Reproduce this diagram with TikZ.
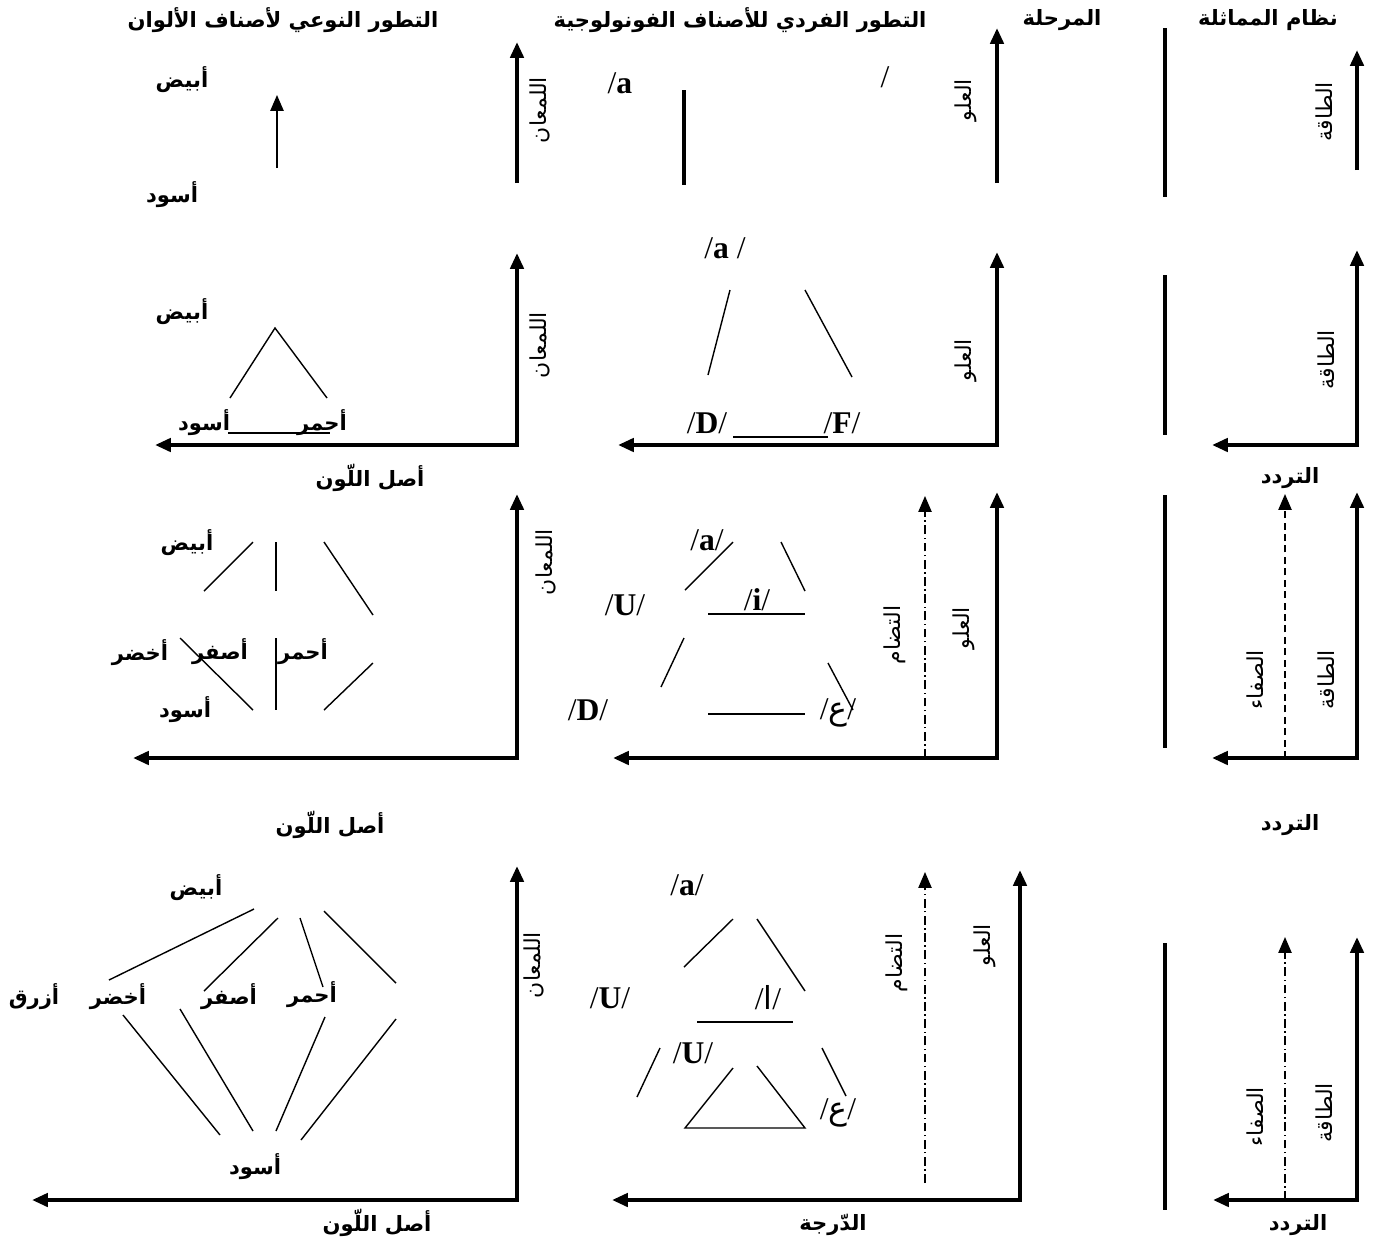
\documentclass[tikz,border=0pt]{standalone}
\usepackage{fontspec}
\setmainfont{Liberation Serif}
\newfontfamily\arabicfont[Script=Arabic]{DejaVu Sans}
\TeXXeTstate=1
\usepackage{tikz}
\usetikzlibrary{arrows.meta}
\newcommand{\rtl}[1]{\beginR#1\endR}

\begin{document}
\begin{tikzpicture}[x=0.02cm, y=-0.02cm, >={Triangle[width=7.5pt,length=9pt]},
  every node/.style={inner sep=1pt},
  ar/.style={font=\arabicfont\bfseries\fontsize{12}{14}\selectfont},
  vlab/.style={rotate=90, font=\arabicfont\fontsize{12.5}{14}\selectfont},
  ph/.style={font=\fontsize{18}{20}\selectfont},
  axis/.style={line width=2.2pt},
  link/.style={line width=0.8pt},
  sep/.style={line width=2.2pt},
  dashdot/.style={line width=0.8pt, dash pattern=on 5pt off 2pt on 0.8pt off 2pt},
  dashline/.style={line width=0.8pt, dash pattern=on 4pt off 2.5pt}]
\useasboundingbox (0,0) rectangle (1373,1248);
\node[ar] (head1) at (283,20) {\rtl{التطور النوعي لأصناف الألوان}};
\node[ar] (head2) at (740,20) {\rtl{التطور الفردي للأصناف الفونولوجية}};
\node[ar] (head3) at (1062,20) {\rtl{المرحلة}};
\node[ar] (head4) at (1268,20) {\rtl{نظام المماثلة}};
% stage 1
\node[ar] (white1) at (182,80) {\rtl{أبيض}};
\node[ar] (black1) at (172,195) {\rtl{أسود}};
\draw[->, line width=1pt] (277,168) -- (277,95);
\draw[->, axis] (517,183) -- (517,42);
\node[vlab] (lum1) at (540,110) {\rtl{اللمعان}};
\node[ph] (a1) at (620,83) {/\textbf{a}};
\draw[sep] (684,90) -- (684,185);
\node[ph] (slash1) at (885,77) {/};
\draw[->, axis] (997,183) -- (997,28);
\node[vlab] (height1) at (966,100) {\rtl{العلو}};
\draw[sep] (1165,28) -- (1165,197);
\draw[->, axis] (1357,170) -- (1357,50);
\node[vlab] (energy1) at (1324,112) {\rtl{الطاقة}};
% stage 2
\node[ar] (white2) at (182,312) {\rtl{أبيض}};
\draw[link] (230,398) -- (275,328) -- (327,398);
\node[ar] (black2) at (204,423) {\rtl{أسود}};
\node[ar] (red2) at (322,423) {\rtl{أحمر}};
\draw[link] (228,433) -- (330,433);
\draw[<->, axis] (517,253) -- (517,445) -- (155,445);
\node[vlab] (lum2) at (540,345) {\rtl{اللمعان}};
\node[ar] (hue2) at (370,478) {\rtl{أصل اللّون}};
\node[ph] (a2) at (725,248) {/\textbf{a} /};
\draw[link] (730,290) -- (708,375);
\draw[link] (805,290) -- (852,377);
\node[ph] (D2) at (707,423) {/\textbf{D}/};
\draw[link] (733,437) -- (828,437);
\node[ph] (F2) at (842,423) {/\textbf{F}/};
\draw[<->, axis] (997,252) -- (997,445) -- (618,445);
\node[vlab] (height2) at (966,360) {\rtl{العلو}};
\draw[sep] (1165,275) -- (1165,435);
\draw[<->, axis] (1357,250) -- (1357,445) -- (1212,445);
\node[vlab] (energy2) at (1326,360) {\rtl{الطاقة}};
\node[ar] (freq2) at (1290,478) {\rtl{التردد}};
% stage 3
\node[ar] (white3) at (187,543) {\rtl{أبيض}};
\draw[link] (204,591) -- (253,542);
\draw[link] (276,542) -- (276,591);
\draw[link] (324,542) -- (373,615);
\node[ar] (green3) at (140,653) {\rtl{أخضر}};
\node[ar] (yellow3) at (220,652) {\rtl{أصفر}};
\node[ar] (red3) at (303,652) {\rtl{أحمر}};
\draw[link] (180,638) -- (253,710);
\draw[link] (276,638) -- (276,710);
\draw[link] (324,710) -- (373,663);
\node[ar] (black3) at (185,710) {\rtl{أسود}};
\draw[<->, axis] (517,494) -- (517,758) -- (133,758);
\node[vlab] (lum3) at (546,562) {\rtl{اللمعان}};
\node[ar] (hue3) at (330,825) {\rtl{أصل اللّون}};
\node[ph] (a3) at (707,540) {/\textbf{a}/};
\draw[link] (685,590) -- (733,542);
\draw[link] (781,542) -- (805,591);
\node[ph] (U3) at (625,605) {/\textbf{U}/};
\node[ph] (i3) at (757,600) {/\textbf{i}/};
\draw[link] (708,614) -- (805,614);
\draw[link] (684,638) -- (661,687);
\draw[link] (828,663) -- (853,710);
\node[ph] (D3) at (588,710) {/\textbf{D}/};
\draw[link] (708,714) -- (805,714);
\node[ph] (ain3) at (838,713) {/{\arabicfont ع}/};
\draw[->, dashdot] (925,758) -- (925,496);
\node[vlab] (comp3) at (895,635) {\rtl{التضام}};
\draw[<->, axis] (997,492) -- (997,758) -- (613,758);
\node[vlab] (height3) at (964,628) {\rtl{العلو}};
\draw[sep] (1165,495) -- (1165,748);
\draw[->, dashline] (1285,758) -- (1285,494);
\node[vlab] (clear3) at (1255,680) {\rtl{الصفاء}};
\draw[<->, axis] (1357,492) -- (1357,758) -- (1212,758);
\node[vlab] (energy3) at (1326,680) {\rtl{الطاقة}};
\node[ar] (freq3) at (1290,825) {\rtl{التردد}};
% stage 4
\node[ar] (white4) at (196,888) {\rtl{أبيض}};
\draw[link] (254,909) -- (109,980);
\draw[link] (278,918) -- (204,991);
\draw[link] (300,918) -- (323,987);
\draw[link] (324,911) -- (396,983);
\node[ar] (blue4) at (34,997) {\rtl{أزرق}};
\node[ar] (green4) at (118,997) {\rtl{أخضر}};
\node[ar] (yellow4) at (229,997) {\rtl{أصفر}};
\node[ar] (red4) at (312,995) {\rtl{أحمر}};
\draw[link] (123,1015) -- (220,1135);
\draw[link] (180,1009) -- (253,1131);
\draw[link] (325,1017) -- (276,1131);
\draw[link] (396,1019) -- (301,1140);
\node[ar] (black4) at (255,1167) {\rtl{أسود}};
\draw[<->, axis] (517,866) -- (517,1200) -- (32,1200);
\node[vlab] (lum4) at (534,965) {\rtl{اللمعان}};
\node[ar] (hue4) at (377,1223) {\rtl{أصل اللّون}};
\node[ph] (a4) at (687,885) {/\textbf{a}/};
\draw[link] (733,919) -- (684,967);
\draw[link] (757,919) -- (805,991);
\node[ph] (U4) at (610,998) {/\textbf{U}/};
\node[ph] (alif4) at (768,998) {/{\arabicfont ا}/};
\draw[link] (697,1022) -- (793,1022);
\node[ph] (U4b) at (693,1053) {/\textbf{U}/};
\draw[link] (660,1048) -- (637,1097);
\draw[link] (822,1048) -- (846,1096);
\draw[link] (733,1068) -- (685,1128) -- (805,1128) -- (757,1066);
\node[ph] (ain4) at (838,1113) {/{\arabicfont ع}/};
\draw[->, dashdot] (925,1183) -- (925,872);
\node[vlab] (comp4) at (897,963) {\rtl{التضام}};
\draw[<->, axis] (1020,870) -- (1020,1200) -- (612,1200);
\node[vlab] (height4) at (985,945) {\rtl{العلو}};
\node[ar] (deg4) at (833,1225) {\rtl{الدّرجة}};
\draw[sep] (1165,943) -- (1165,1210);
\draw[->, dashdot] (1285,1200) -- (1285,937);
\node[vlab] (clear4) at (1255,1117) {\rtl{الصفاء}};
\draw[<->, axis] (1357,937) -- (1357,1200) -- (1213,1200);
\node[vlab] (energy4) at (1324,1113) {\rtl{الطاقة}};
\node[ar] (freq4) at (1298,1225) {\rtl{التردد}};
\end{tikzpicture}
\end{document}
